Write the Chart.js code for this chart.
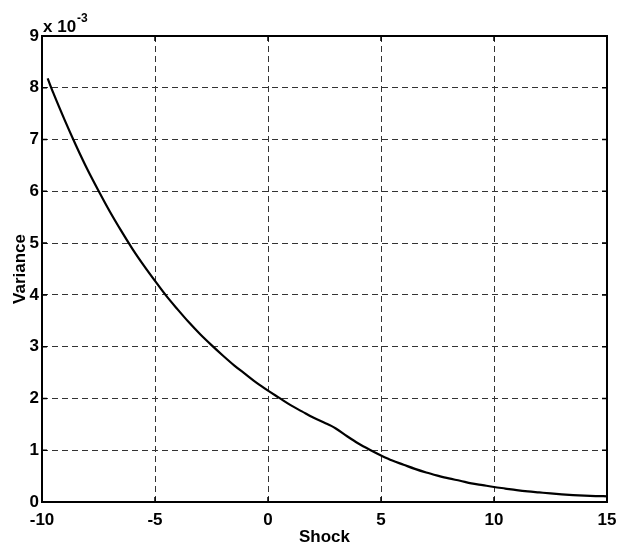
<!DOCTYPE html>
<html>
<head>
<meta charset="utf-8">
<script src="https://cdn.jsdelivr.net/npm/chart.js@4"></script>
<style>
html,body{margin:0;padding:0;background:#fff;}
#wrap{width:618px;height:550px;}
</style>
</head>
<body>
<div id="wrap"><canvas id="c" width="618" height="550"></canvas></div>
<script>
// Shock values (x axis)
const shock = [-9.75,-9.5,-9,-8.5,-8,-7.5,-7,-6.5,-6,-5.5,-5,-4.5,-4,-3.5,-3,-2.5,-2,-1.5,-1,-0.5,0,0.5,1,1.5,2,2.5,2.8,3,3.5,4,4.5,5,5.5,6,6.5,7,7.5,8,8.5,9,9.5,10,10.5,11,11.5,12,12.5,13,13.5,14,14.5,15];
// Variance values (units of 1e-3)
const varianceE3 = [8.18,7.90,7.38,6.89,6.43,6.01,5.61,5.24,4.89,4.57,4.27,3.98,3.72,3.47,3.24,3.03,2.83,2.64,2.47,2.30,2.15,2.01,1.87,1.75,1.63,1.53,1.47,1.42,1.27,1.13,1.01,0.90,0.80,0.72,0.64,0.57,0.51,0.455,0.41,0.36,0.325,0.29,0.26,0.23,0.205,0.185,0.165,0.147,0.133,0.122,0.115,0.11];
const xTicks = [-10,-5,0,5,10,15];
const yTicks = [0,1,2,3,4,5,6,7,8,9];
const xLabel = 'Shock';
const yLabel = 'Variance';
const scaleBase = 'x 10';
const scaleExp = '-3';

const points = shock.map((s,i)=>({x:s, y:varianceE3[i]}));
const FONT = "'Liberation Sans', Arial, Helvetica, sans-serif";

const frame = {
  id:'frame',
  afterDraw(chart){
    const {ctx, chartArea:a, scales} = chart;
    ctx.save();
    ctx.strokeStyle='#000';
    ctx.lineWidth=1.5;
    const tl=5;
    ctx.beginPath();
    xTicks.forEach(v=>{
      const px=scales.x.getPixelForValue(v);
      ctx.moveTo(px,a.bottom); ctx.lineTo(px,a.bottom-tl);
      ctx.moveTo(px,a.top); ctx.lineTo(px,a.top+tl);
    });
    yTicks.forEach(v=>{
      const py=scales.y.getPixelForValue(v);
      ctx.moveTo(a.left,py); ctx.lineTo(a.left+tl,py);
      ctx.moveTo(a.right,py); ctx.lineTo(a.right-tl,py);
    });
    ctx.stroke();
    ctx.lineWidth=2;
    ctx.strokeRect(a.left,a.top,a.right-a.left,a.bottom-a.top);
    ctx.fillStyle='#000';
    ctx.textBaseline='alphabetic';
    ctx.textAlign='left';
    ctx.font="bold 17px "+FONT;
    const bx=a.left+1, by=a.top-4;
    ctx.fillText(scaleBase,bx,by);
    const w=ctx.measureText(scaleBase).width;
    ctx.font="bold 12px "+FONT;
    ctx.fillText(scaleExp,bx+w+1,by-10);
    ctx.restore();
  }
};

new Chart(document.getElementById('c'),{
  type:'line',
  data:{datasets:[{
    data:points,
    borderColor:'#000',
    borderWidth:2.2,
    pointRadius:0,
    fill:false,
    cubicInterpolationMode:'monotone'
  }]},
  options:{
    responsive:false,
    animation:false,
    events:[],
    plugins:{legend:{display:false},tooltip:{enabled:false}},
    layout:{padding:{top:36,right:11,left:0,bottom:0}},
    scales:{
      x:{
        type:'linear',min:-10,max:15,
        afterBuildTicks(s){s.ticks=xTicks.map(v=>({value:v}));},
        afterFit(s){s.height=48;s.paddingLeft=0;s.paddingRight=0;},
        grid:{color:'#333',lineWidth:1,drawTicks:false},
        border:{display:false,dash:[6,4]},
        ticks:{color:'#000',font:{family:FONT,size:17,weight:'bold'},padding:8,maxRotation:0,autoSkip:false},
        title:{display:true,text:xLabel,color:'#000',font:{family:FONT,size:17,weight:'bold'},padding:{top:0,bottom:2}}
      },
      y:{
        type:'linear',min:0,max:9,
        afterBuildTicks(s){s.ticks=yTicks.map(v=>({value:v}));},
        afterFit(s){s.width=42;s.paddingTop=0;s.paddingBottom=0;},
        grid:{color:'#333',lineWidth:1,drawTicks:false},
        border:{display:false,dash:[6,4]},
        ticks:{color:'#000',font:{family:FONT,size:17,weight:'bold'},padding:3,autoSkip:false},
        title:{display:true,text:yLabel,color:'#000',font:{family:FONT,size:17,weight:'bold'},padding:{top:10,bottom:0}}
      }
    }
  },
  plugins:[frame]
});
</script>
</body>
</html>
